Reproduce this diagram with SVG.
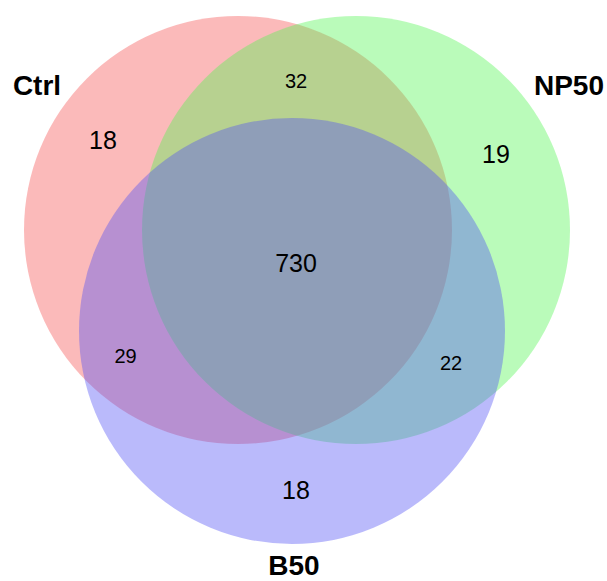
<svg xmlns="http://www.w3.org/2000/svg" width="607" height="581" viewBox="0 0 607 581">
<style>
.c{opacity:0.4}
.lab{font-family:"Liberation Sans",Arial,sans-serif;font-weight:bold;font-size:28px;fill:#000;text-anchor:middle}
.n{font-family:"Liberation Sans",Arial,sans-serif;font-size:25px;fill:#000;text-anchor:middle}
.s{font-size:20px}
</style>
<rect width="607" height="581" fill="#fff"/>
<g id="ctrl"><circle class="c" cx="238" cy="230" r="214" fill="#f55353"/></g>
<g id="np50"><circle class="c" cx="356" cy="230" r="214" fill="#53f553"/></g>
<g id="b50"><circle class="c" cx="292" cy="331" r="213" fill="#5353f5"/></g>
<g id="labels">
<text class="lab" x="37" y="95">Ctrl</text>
<text class="lab" x="569" y="95">NP50</text>
<text class="lab" x="294" y="575">B50</text>
<text class="n" x="103" y="149">18</text>
<text class="n" x="496" y="163">19</text>
<text class="n" x="296" y="499">18</text>
<text class="n" x="296" y="272">730</text>
<text class="n s" x="296" y="88">32</text>
<text class="n s" x="125.5" y="363">29</text>
<text class="n s" x="451" y="370">22</text>
</g>
</svg>
